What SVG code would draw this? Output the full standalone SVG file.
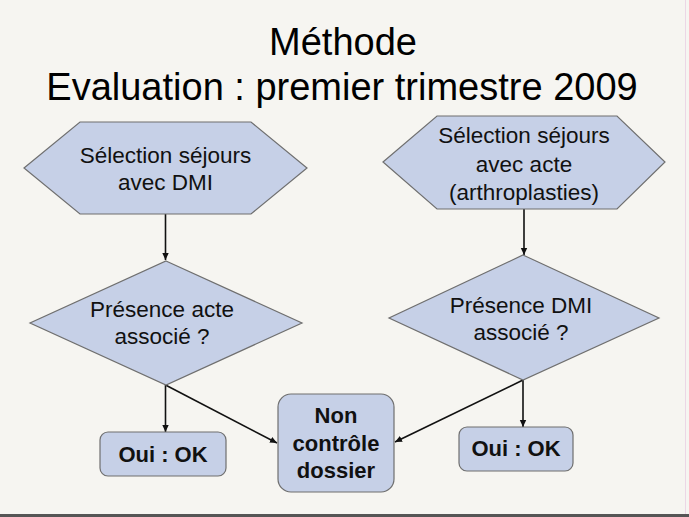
<svg xmlns="http://www.w3.org/2000/svg" width="689" height="517" viewBox="0 0 689 517">
<style>
.shape{fill:#c6d0e7;stroke:#6f6f6f;stroke-width:1.2}
.t{font-family:"Liberation Sans",Arial,sans-serif;font-size:22.5px;fill:#111;text-anchor:middle}
.b{font-family:"Liberation Sans",Arial,sans-serif;font-size:22px;font-weight:bold;fill:#111;text-anchor:middle}
.title{font-family:"Liberation Sans",Arial,sans-serif;font-size:38px;fill:#000;text-anchor:middle}
.c{stroke:#111;stroke-width:1.6;fill:none;marker-end:url(#ah)}
</style>
<defs>
<marker id="ah" markerWidth="8" markerHeight="8" refX="7" refY="4" orient="auto" markerUnits="userSpaceOnUse">
<path d="M0,0.8 L7,4 L0,7.2 Z" fill="#111"/>
</marker>
</defs>
<rect x="0" y="0" width="689" height="517" fill="#f6f5f1"/>
<line x1="685.5" y1="0" x2="685.5" y2="514" stroke="#ecd6e6" stroke-width="1"/>
<rect x="0" y="514" width="689" height="3" fill="#555"/>
<g id="title">
<text class="title" x="343" y="55">Méthode</text>
<text class="title" x="342" y="100">Evaluation : premier trimestre 2009</text>
</g>
<g id="connectors">
<line class="c" x1="165.5" y1="214" x2="165.5" y2="260"/>
<line class="c" x1="524" y1="209" x2="524" y2="255"/>
<line class="c" x1="165.5" y1="385" x2="165.5" y2="432"/>
<line class="c" x1="165.5" y1="385" x2="277" y2="443"/>
<line class="c" x1="523" y1="380" x2="523" y2="427"/>
<line class="c" x1="523" y1="380" x2="395" y2="442"/>
</g>
<g id="hex-left">
<polygon class="shape" points="24,168 80,122 251,122 307,168 251,214 80,214"/>
<text class="t" x="165.5" y="163">Sélection séjours</text>
<text class="t" x="165.5" y="190">avec DMI</text>
</g>
<g id="hex-right">
<polygon class="shape" points="383,162 437,116 617,116 665,162 617,209 437,209"/>
<text class="t" x="524" y="143">Sélection séjours</text>
<text class="t" x="524" y="172">avec acte</text>
<text class="t" x="524" y="200">(arthroplasties)</text>
</g>
<g id="diamond-left">
<polygon class="shape" points="166,261 302,323 166,385 30,323"/>
<text class="t" x="162" y="317">Présence acte</text>
<text class="t" x="162" y="344">associé ?</text>
</g>
<g id="diamond-right">
<polygon class="shape" points="523,255 659,318 523,380 389,318"/>
<text class="t" x="521" y="313">Présence DMI</text>
<text class="t" x="521" y="340">associé ?</text>
</g>
<g id="oui-left">
<rect class="shape" x="100" y="432" width="126" height="44" rx="8"/>
<text class="b" x="163" y="462">Oui : OK</text>
</g>
<g id="non">
<rect class="shape" x="278" y="394" width="116" height="98" rx="13"/>
<text class="b" x="336" y="423">Non</text>
<text class="b" x="336" y="451">contrôle</text>
<text class="b" x="336" y="478">dossier</text>
</g>
<g id="oui-right">
<rect class="shape" x="459" y="427" width="114" height="44" rx="8"/>
<text class="b" x="516" y="456">Oui : OK</text>
</g>
</svg>
